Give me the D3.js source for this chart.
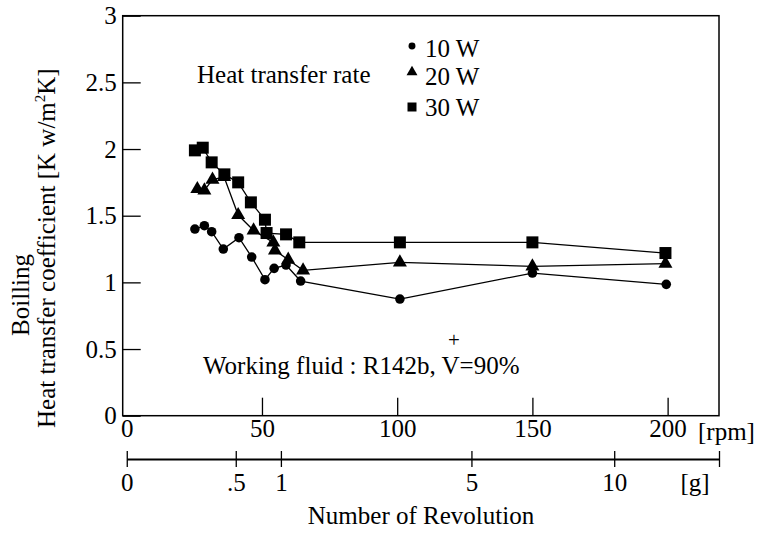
<!DOCTYPE html>
<html>
<head>
<meta charset="utf-8">
<script src="https://cdn.jsdelivr.net/npm/d3@7"></script>
<style>
  body { margin: 0; background: white; }
</style>
</head>
<body>
<script>
/*********** boiling heat transfer vs revolution ***********/

// 10 W
var rpm10 = [25.2, 28.7, 31.4, 35.7, 41.5, 46.2, 51.1, 54.5, 58.9, 64.3, 101, 150, 199.5];
var htc10 = [1.40, 1.425, 1.38, 1.25, 1.335, 1.19, 1.02, 1.105, 1.13, 1.01, 0.875, 1.07, 0.985];
// 20 W
var rpm20 = [26.1, 28.7, 31.7, 36.0, 41.2, 46.9, 54.2, 54.8, 59.7, 65.2, 101, 150, 199.2];
var htc20 = [1.70, 1.69, 1.77, 1.79, 1.505, 1.39, 1.30, 1.24, 1.17, 1.09, 1.15, 1.12, 1.14];
// 30 W
var rpm30 = [25.2, 28.1, 31.4, 36.1, 41.2, 45.9, 51.1, 51.7, 58.9, 63.8, 101, 150, 199.2];
var htc30 = [1.99, 2.01, 1.90, 1.81, 1.75, 1.60, 1.47, 1.37, 1.36, 1.30, 1.30, 1.30, 1.22];

var seriesNames = ['10 W', '20 W', '30 W'];
var yTicks = [0, 0.5, 1, 1.5, 2, 2.5, 3];
var xTicks = [0, 50, 100, 150, 200];
var gTicks = [0, 0.5, 1, 5, 10];
var gLabels = ['0', '.5', '1', '5', '10'];
var rpmPerG = 57; // rpm giving 1 g

var width = 758, height = 533;
var fontSize = 25;
var serif = 'Liberation Serif';

var svg = d3.select('body').append('svg')
  .attr('width', width)
  .attr('height', height)
  .style('background-color', 'white');

var x = d3.scaleLinear().domain([-1.5, 219]).range([122.7, 719]);
var y = d3.scaleLinear().domain([0, 3]).range([415.7, 15.7]);

// y axis, ticks pointing inward
var yAxis = svg.append('g')
  .attr('transform', 'translate(' + x(-1.5) + ',0)')
  .call(d3.axisLeft(y).tickValues(yTicks).tickFormat(d3.format(''))
    .tickSizeInner(-18).tickSizeOuter(0).tickPadding(6));
yAxis.select('.domain').remove();

// x axis (rpm)
var xAxis = svg.append('g')
  .attr('transform', 'translate(0,' + y(0) + ')')
  .call(d3.axisBottom(x).tickValues(xTicks).tickFormat(d3.format(''))
    .tickSizeInner(-18).tickSizeOuter(0).tickPadding(4));
xAxis.select('.domain').remove();
xAxis.selectAll('.tick line').filter(function(d) { return d === 0; }).remove();

[yAxis, xAxis].forEach(function(ax) {
  ax.selectAll('line').attr('stroke', 'black').attr('stroke-width', 1.3);
});

// frame
svg.append('rect')
  .attr('x', x(-1.5))
  .attr('y', y(3))
  .attr('width', x(219) - x(-1.5))
  .attr('height', y(0) - y(3))
  .attr('fill', 'none')
  .attr('stroke', 'black')
  .attr('stroke-width', 1.5);

svg.append('text').text('[rpm]')
  .attr('x', 698).attr('y', 440);

// second axis in g, g grows with rpm squared
var gMax = Math.pow(219 / rpmPerG, 2);
var g = d3.scaleSqrt().domain([0, gMax]).range([x(0), x(219)]);

var gAxis = svg.append('g')
  .attr('transform', 'translate(0,459)')
  .call(d3.axisBottom(g).tickValues(gTicks.concat([gMax]))
    .tickFormat(function(d, i) { return gLabels[i] || ''; })
    .tickSizeInner(8).tickSizeOuter(0).tickPadding(6));
gAxis.selectAll('.tick line').attr('y1', -8).attr('stroke', 'black').attr('stroke-width', 1.3);
gAxis.select('.domain').attr('stroke', 'black').attr('stroke-width', 1.8);

svg.append('text').text('[g]')
  .attr('x', 695).attr('y', 491)
  .attr('text-anchor', 'middle');

svg.append('text').text('Number of Revolution')
  .attr('x', 421).attr('y', 524)
  .attr('text-anchor', 'middle');

// y title, two rotated lines
svg.append('text').text('Boilling')
  .attr('transform', 'translate(29,295) rotate(-90)')
  .attr('text-anchor', 'middle');

var yTitle = svg.append('text')
  .attr('transform', 'translate(55,428) rotate(-90)');
yTitle.append('tspan').text('Heat transfer coefficient [K w/m');
yTitle.append('tspan').text('2').attr('dy', -10);
yTitle.append('tspan').text('K]').attr('dy', 10);

// series lines and markers
var series = [
  {name: seriesNames[0], rpm: rpm10, htc: htc10, shape: d3.symbolCircle, size: 72, legendSize: 38},
  {name: seriesNames[1], rpm: rpm20, htc: htc20, shape: d3.symbolTriangle, size: 85, legendSize: 52},
  {name: seriesNames[2], rpm: rpm30, htc: htc30, shape: d3.symbolSquare, size: 144, legendSize: 81}
];

var line = d3.line()
  .x(function(d) { return x(d[0]); })
  .y(function(d) { return y(d[1]); });

series.forEach(function(s) {
  var pts = d3.zip(s.rpm, s.htc);
  svg.append('path')
    .attr('d', line(pts))
    .attr('fill', 'none')
    .attr('stroke', 'black')
    .attr('stroke-width', 1.3);
});

series.forEach(function(s) {
  var pts = d3.zip(s.rpm, s.htc);
  svg.selectAll(null)
    .data(pts)
    .enter()
    .append('path')
    .attr('d', d3.symbol().type(s.shape).size(s.size))
    .attr('transform', function(d) { return 'translate(' + x(d[0]) + ',' + y(d[1]) + ')'; })
    .attr('fill', 'black');
});

// legend
svg.append('text').text('Heat transfer rate')
  .attr('x', 197).attr('y', 83);

var legendY = [46, 72, 107];
var legendBase = [57, 85, 116];
series.forEach(function(s, i) {
  svg.append('path')
    .attr('d', d3.symbol().type(s.shape).size(s.legendSize))
    .attr('transform', 'translate(412,' + legendY[i] + ')')
    .attr('fill', 'black');
  svg.append('text').text(s.name)
    .attr('x', 425).attr('y', legendBase[i]);
});

// working fluid note, the + sits raised over the = sign
svg.append('text')
  .attr('x', 203).attr('y', 374)
  .text('Working fluid : R142b, V=90%');
svg.append('text').text('+')
  .attr('class', 'sup')
  .attr('x', 454).attr('y', 347);

// one font for every text, axes included
svg.selectAll('text')
  .attr('font-family', serif)
  .attr('font-size', fontSize)
  .attr('fill', 'black');
svg.selectAll('g').attr('font-family', null).attr('font-size', null);
yTitle.select('tspan:nth-child(2)').attr('font-size', 15);
svg.select('text.sup').attr('font-size', 21).attr('text-anchor', 'middle');
</script>
</body>
</html>
